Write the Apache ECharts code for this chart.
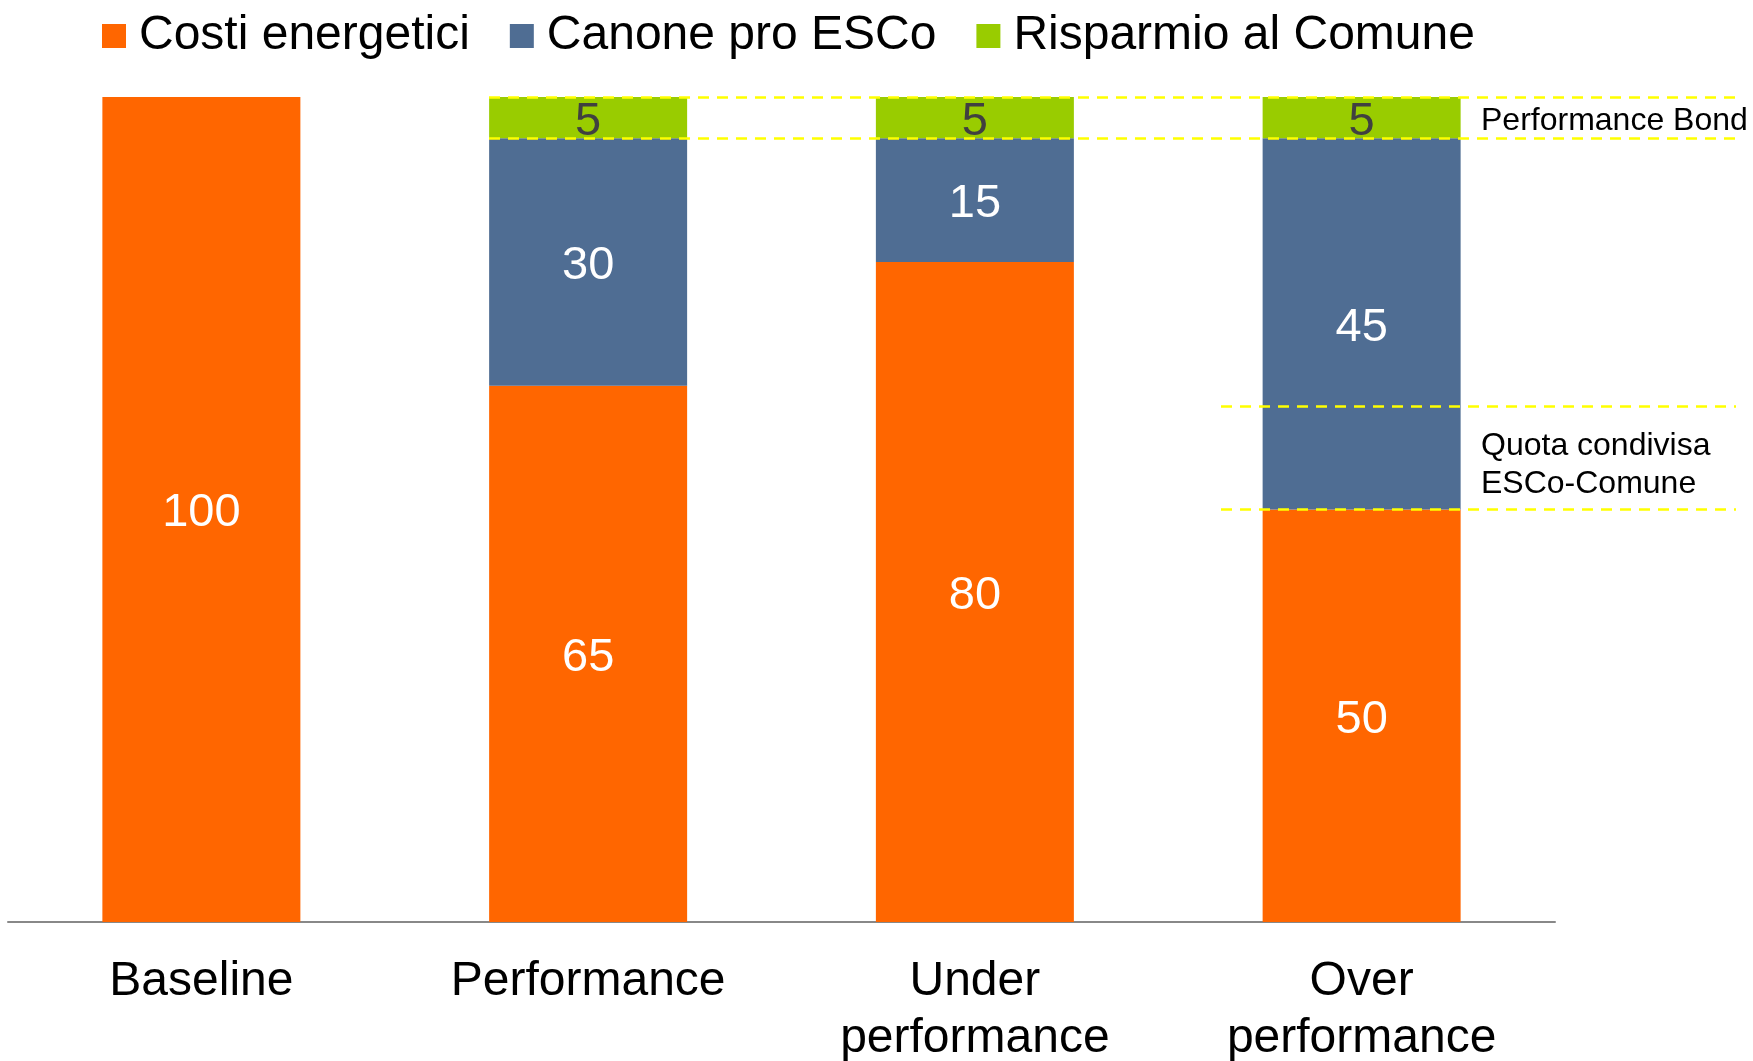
<!DOCTYPE html>
<html>
<head>
<meta charset="utf-8">
<script src="https://cdn.jsdelivr.net/npm/echarts@6/dist/echarts.min.js"></script>
<style>
html,body{margin:0;padding:0;background:#fff;}
#chart{width:1753px;height:1061px;}
</style>
</head>
<body>
<div id="chart"></div>
<script>
// ---- data ----
const categories = ['Baseline', 'Performance', 'Under\nperformance', 'Over\nperformance'];
const seriesNames = ['Costi energetici', 'Canone pro ESCo', 'Risparmio al Comune'];
const costiEnergetici = [100, 65, 80, 50];
const canoneESCo = [null, 30, 15, 45];
const risparmioComune = [null, 5, 5, 5];
// annotation levels (value axis)
const bondLevels = [100, 95];
const quotaLevels = [62.5, 50];
const annotationTexts = ['Performance Bond', 'Quota condivisa\nESCo-Comune'];

const FONT = '"Liberation Sans", Arial, sans-serif';
const colors = ['#FF6600', '#4F6D93', '#99CC00'];

const chart = echarts.init(document.getElementById('chart'), null, {renderer: 'canvas'});

function hLine(y, x1, x2) {
  return [{x: x1, yAxis: y}, {x: x2, yAxis: y}];
}

const dashStyle = {color: '#FFFF00', width: 2.5, type: [11, 8]};
const valueLabel = {show: true, position: 'inside', color: '#fff', fontSize: 47, fontFamily: FONT, offset: [0, 4]};

const option = {
  backgroundColor: '#ffffff',
  animation: false,
  textStyle: {fontFamily: FONT},
  legend: {
    data: seriesNames,
    left: 97,
    top: 7,
    itemWidth: 24,
    itemHeight: 24,
    itemGap: 40,
    icon: 'rect',
    textStyle: {fontSize: 48, color: '#000', fontFamily: FONT, padding: [0, 0, 0, 8]}
  },
  grid: {left: 8, right: 198, top: 97, bottom: 139, containLabel: false, outerBoundsMode: 'none'},
  xAxis: {
    type: 'category',
    data: categories,
    axisLine: {show: true, lineStyle: {color: '#888888', width: 2}},
    axisTick: {show: false},
    axisLabel: {interval: 0, fontSize: 48, lineHeight: 57, color: '#000', margin: 31, fontFamily: FONT}
  },
  yAxis: {
    type: 'value', min: 0, max: 100, show: false,
    splitLine: {show: false}
  },
  series: [
    {
      name: seriesNames[0], type: 'bar', stack: 'tot', data: costiEnergetici,
      barWidth: 198,
      itemStyle: {color: colors[0]},
      label: valueLabel
    },
    {
      name: seriesNames[1], type: 'bar', stack: 'tot', data: canoneESCo,
      barWidth: 198,
      itemStyle: {color: colors[1]},
      label: valueLabel
    },
    {
      name: seriesNames[2], type: 'bar', stack: 'tot', data: risparmioComune,
      barWidth: 198,
      itemStyle: {color: colors[2]},
      label: Object.assign({}, valueLabel, {color: '#404040'}),
      markLine: {
        silent: true,
        symbol: ['none', 'none'],
        label: {show: false},
        lineStyle: dashStyle,
        z: 10,
        data: [
          hLine(bondLevels[0], 489, 1736),
          hLine(bondLevels[1], 489, 1736),
          hLine(quotaLevels[0], 1221, 1736),
          hLine(quotaLevels[1], 1221, 1736)
        ]
      }
    }
  ]
};

chart.setOption(option);

function placeAnnotations() {
  const yBond = chart.convertToPixel({yAxisIndex: 0}, (bondLevels[0] + bondLevels[1]) / 2);
  const yQuota = chart.convertToPixel({yAxisIndex: 0}, (quotaLevels[0] + quotaLevels[1]) / 2);
  chart.setOption({
    graphic: [
      {type: 'text', x: 1481, y: yBond + 4,
       style: {text: annotationTexts[0], font: '32px ' + FONT, fill: '#000', textVerticalAlign: 'middle', textAlign: 'left'}},
      {type: 'text', x: 1481, y: yQuota + 7,
       style: {text: annotationTexts[1], font: '32px ' + FONT, lineHeight: 38, fill: '#000', textVerticalAlign: 'middle', textAlign: 'left'}}
    ]
  });
}
placeAnnotations();
</script>
</body>
</html>
